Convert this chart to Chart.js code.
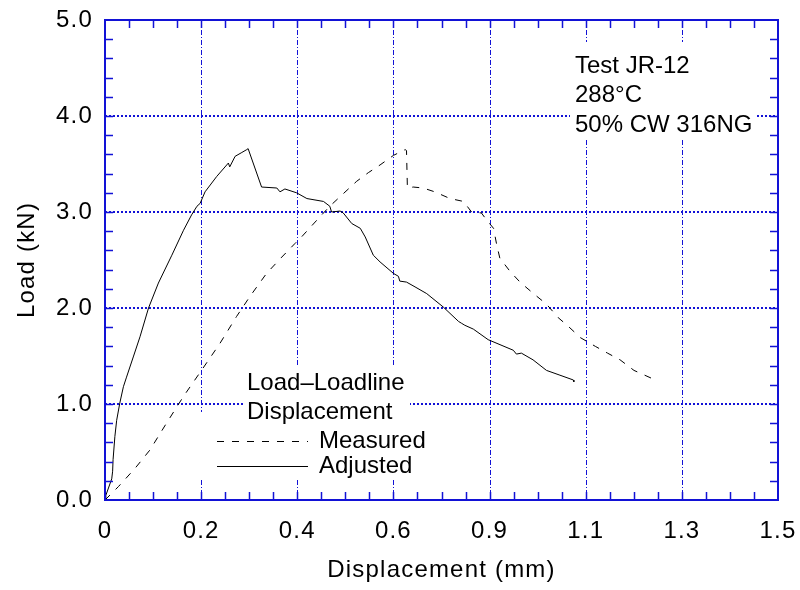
<!DOCTYPE html>
<html>
<head>
<meta charset="utf-8">
<script src="https://cdn.jsdelivr.net/npm/chart.js@4.4.0/dist/chart.umd.min.js"></script>
<style>
  html, body { margin: 0; padding: 0; background: #fff; }
</style>
</head>
<body>
<canvas id="chart" width="800" height="590"></canvas>
<script>
// load vs loadline displacement, test JR-12
const adjustedX = [0, 0.002, 0.015, 0.017, 0.018, 0.022, 0.026, 0.033, 0.041, 0.048, 0.063, 0.078, 0.097, 0.119, 0.149, 0.175, 0.193, 0.205, 0.212, 0.223, 0.249, 0.275, 0.278, 0.290, 0.305, 0.316, 0.319, 0.349, 0.383, 0.390, 0.401, 0.427, 0.450, 0.487, 0.501, 0.505, 0.524, 0.531, 0.550, 0.569, 0.580, 0.598, 0.613, 0.643, 0.654, 0.657, 0.672, 0.691, 0.717, 0.754, 0.788, 0.795, 0.802, 0.821, 0.854, 0.910, 0.917, 0.928, 0.954, 0.984, 1.014, 1.044, 1.045]
const adjustedY = [0, 0.05, 0.22, 0.30, 0.42, 0.66, 0.83, 1.01, 1.18, 1.28, 1.49, 1.70, 2.00, 2.26, 2.55, 2.81, 2.97, 3.06, 3.09, 3.21, 3.37, 3.51, 3.47, 3.58, 3.62, 3.65, 3.66, 3.26, 3.25, 3.21, 3.24, 3.20, 3.14, 3.11, 3.06, 3.00, 3.01, 2.99, 2.88, 2.83, 2.74, 2.55, 2.48, 2.36, 2.33, 2.28, 2.27, 2.22, 2.15, 2.01, 1.86, 1.84, 1.82, 1.78, 1.67, 1.56, 1.52, 1.53, 1.46, 1.35, 1.30, 1.25, 1.23]

const measuredX = [0, 0.030, 0.067, 0.100, 0.137, 0.175, 0.215, 0.256, 0.293, 0.323, 0.360, 0.394, 0.423, 0.438, 0.479, 0.501, 0.524, 0.561, 0.587, 0.613, 0.643, 0.669, 0.672, 0.674, 0.687, 0.709, 0.735, 0.769, 0.799, 0.817, 0.839, 0.850, 0.866, 0.873, 0.880, 0.903, 0.925, 0.955, 0.984, 1.010, 1.030, 1.060, 1.093, 1.120, 1.148, 1.179, 1.222, 1.226]
const measuredY = [0, 0.14, 0.33, 0.52, 0.80, 1.08, 1.35, 1.63, 1.91, 2.12, 2.36, 2.53, 2.67, 2.74, 2.95, 3.06, 3.16, 3.32, 3.41, 3.49, 3.59, 3.65, 3.64, 3.25, 3.26, 3.25, 3.21, 3.14, 3.11, 3.00, 2.99, 2.92, 2.83, 2.66, 2.52, 2.38, 2.27, 2.15, 2.04, 1.90, 1.82, 1.69, 1.60, 1.53, 1.46, 1.35, 1.26, 1.24]

const xTickLabels = ['0', '0.2', '0.4', '0.6', '0.9', '1.1', '1.3', '1.5']
const yTickLabels = ['0.0', '1.0', '2.0', '3.0', '4.0', '5.0']
const noteLines = ['Test JR-12', '288\u00B0C', '50% CW 316NG']
const legendTitle = ['Load\u2013Loadline', 'Displacement']
const seriesNames = ['Measured', 'Adjusted']

const X_MAX = 1.5
const xStep = X_MAX / (xTickLabels.length - 1)
const BLUE = '#1212d6'
const FONT = '"Liberation Sans", Arial, Helvetica, sans-serif'
const DASH = [7, 8]

const toPoints = (xs, ys) => xs.map((v, i) => ({ x: v, y: ys[i] }))

const frame = {
  id: 'frame',
  beforeDraw (chart) {
    // axis text in the original is set a little wider than plain Arial
    chart.ctx.letterSpacing = '1.2px'
  },
  beforeDatasetsDraw (chart) {
    const { ctx, chartArea: a, scales: { x, y } } = chart
    ctx.save()
    // vertical grid, dash-dot
    ctx.strokeStyle = BLUE
    ctx.lineWidth = 1
    ctx.setLineDash([5, 2, 1, 2])
    for (let i = 1; i < xTickLabels.length - 1; i++) {
      const px = Math.round(x.getPixelForValue(i * xStep)) + 0.5
      ctx.beginPath()
      ctx.moveTo(px, a.top)
      ctx.lineTo(px, a.bottom)
      ctx.stroke()
    }
    // horizontal grid, dotted
    ctx.lineWidth = 2
    ctx.setLineDash([2, 2])
    for (let i = 1; i < yTickLabels.length - 1; i++) {
      const py = Math.round(y.getPixelForValue(i))
      ctx.beginPath()
      ctx.moveTo(a.left, py)
      ctx.lineTo(a.right, py)
      ctx.stroke()
    }
    // white backing behind the text blocks
    ctx.fillStyle = '#fff'
    ctx.fillRect(570, 42, 186, 98)
    ctx.fillRect(243, 366, 167, 58)
    ctx.fillRect(198, 412, 200, 68)
    ctx.restore()
  },
  afterDatasetsDraw (chart) {
    const { ctx, chartArea: a, scales: { x, y } } = chart
    ctx.save()
    ctx.letterSpacing = '0px'
    ctx.strokeStyle = BLUE
    ctx.setLineDash([])
    // minor + major ticks pointing inward on all sides
    ctx.lineWidth = 1.5
    ctx.beginPath()
    const nx = (xTickLabels.length - 1) * 4
    for (let i = 1; i < nx; i++) {
      const px = Math.round(x.getPixelForValue(i * X_MAX / nx)) + 0.5
      ctx.moveTo(px, a.bottom); ctx.lineTo(px, a.bottom - 8)
      ctx.moveTo(px, a.top); ctx.lineTo(px, a.top + 8)
    }
    const ny = (yTickLabels.length - 1) * 5
    for (let i = 1; i < ny; i++) {
      const py = Math.round(y.getPixelForValue(i * 0.2)) + 0.5
      ctx.moveTo(a.left, py); ctx.lineTo(a.left + 8, py)
      ctx.moveTo(a.right, py); ctx.lineTo(a.right - 8, py)
    }
    ctx.stroke()
    // plot frame
    ctx.lineWidth = 2
    ctx.strokeRect(a.left, a.top, a.right - a.left, a.bottom - a.top)

    // annotation text
    ctx.fillStyle = '#000'
    ctx.font = '24px ' + FONT
    ctx.textBaseline = 'middle'
    ctx.textAlign = 'left'
    noteLines.forEach((t, i) => ctx.fillText(t, 575, 66 + i * 29.5))
    legendTitle.forEach((t, i) => ctx.fillText(t, 247, 383 + i * 29))
    seriesNames.forEach((t, i) => ctx.fillText(t, 319, 441 + i * 25))

    // legend samples
    ctx.strokeStyle = '#000'
    ctx.lineWidth = 1
    ctx.setLineDash(DASH)
    ctx.beginPath(); ctx.moveTo(217, 441.5); ctx.lineTo(308, 441.5); ctx.stroke()
    ctx.setLineDash([])
    ctx.beginPath(); ctx.moveTo(217, 466.5); ctx.lineTo(308, 466.5); ctx.stroke()
    ctx.restore()
  }
}

const ctx = document.getElementById('chart')
Chart.defaults.font.family = FONT
Chart.defaults.color = '#000'

const chart = new Chart(ctx, {
  type: 'scatter',
  data: {
    datasets: [{
      label: seriesNames[0],
      data: toPoints(measuredX, measuredY),
      showLine: true,
      borderColor: '#000',
      borderWidth: 1,
      borderDash: DASH,
      pointRadius: 0
    }, {
      label: seriesNames[1],
      data: toPoints(adjustedX, adjustedY),
      showLine: true,
      borderColor: '#000',
      borderWidth: 1,
      pointRadius: 0
    }]
  },
  options: {
    responsive: false,
    animation: false,
    layout: { padding: { top: 20, right: 22, left: 0, bottom: 0 } },
    plugins: { legend: { display: false }, tooltip: { enabled: false } },
    scales: {
      x: {
        type: 'linear',
        min: 0,
        max: X_MAX,
        afterBuildTicks: s => { s.ticks = xTickLabels.map((_, i) => ({ value: i * xStep })) },
        afterFit: s => { s.height = 90; s.paddingLeft = 0; s.paddingRight = 0 },
        grid: { display: false, drawTicks: false },
        border: { display: false },
        ticks: { padding: 17, font: { size: 24 }, maxRotation: 0, autoSkip: false, callback: (v, i) => xTickLabels[i] },
        title: { display: true, text: 'Displacement (mm)', font: { size: 24 }, padding: { top: 0, bottom: 5 } }
      },
      y: {
        type: 'linear',
        min: 0,
        max: yTickLabels.length - 1,
        afterBuildTicks: s => { s.ticks = yTickLabels.map((_, i) => ({ value: i })) },
        afterFit: s => { s.width = 105; s.paddingTop = 0; s.paddingBottom = 0 },
        grid: { display: false, drawTicks: false },
        border: { display: false },
        ticks: { padding: 12, font: { size: 24 }, autoSkip: false, callback: (v, i) => yTickLabels[i] },
        title: { display: true, text: 'Load (kN)', font: { size: 24 }, padding: { top: 13, bottom: 0 } }
      }
    }
  },
  plugins: [frame]
})
</script>
</body>
</html>
